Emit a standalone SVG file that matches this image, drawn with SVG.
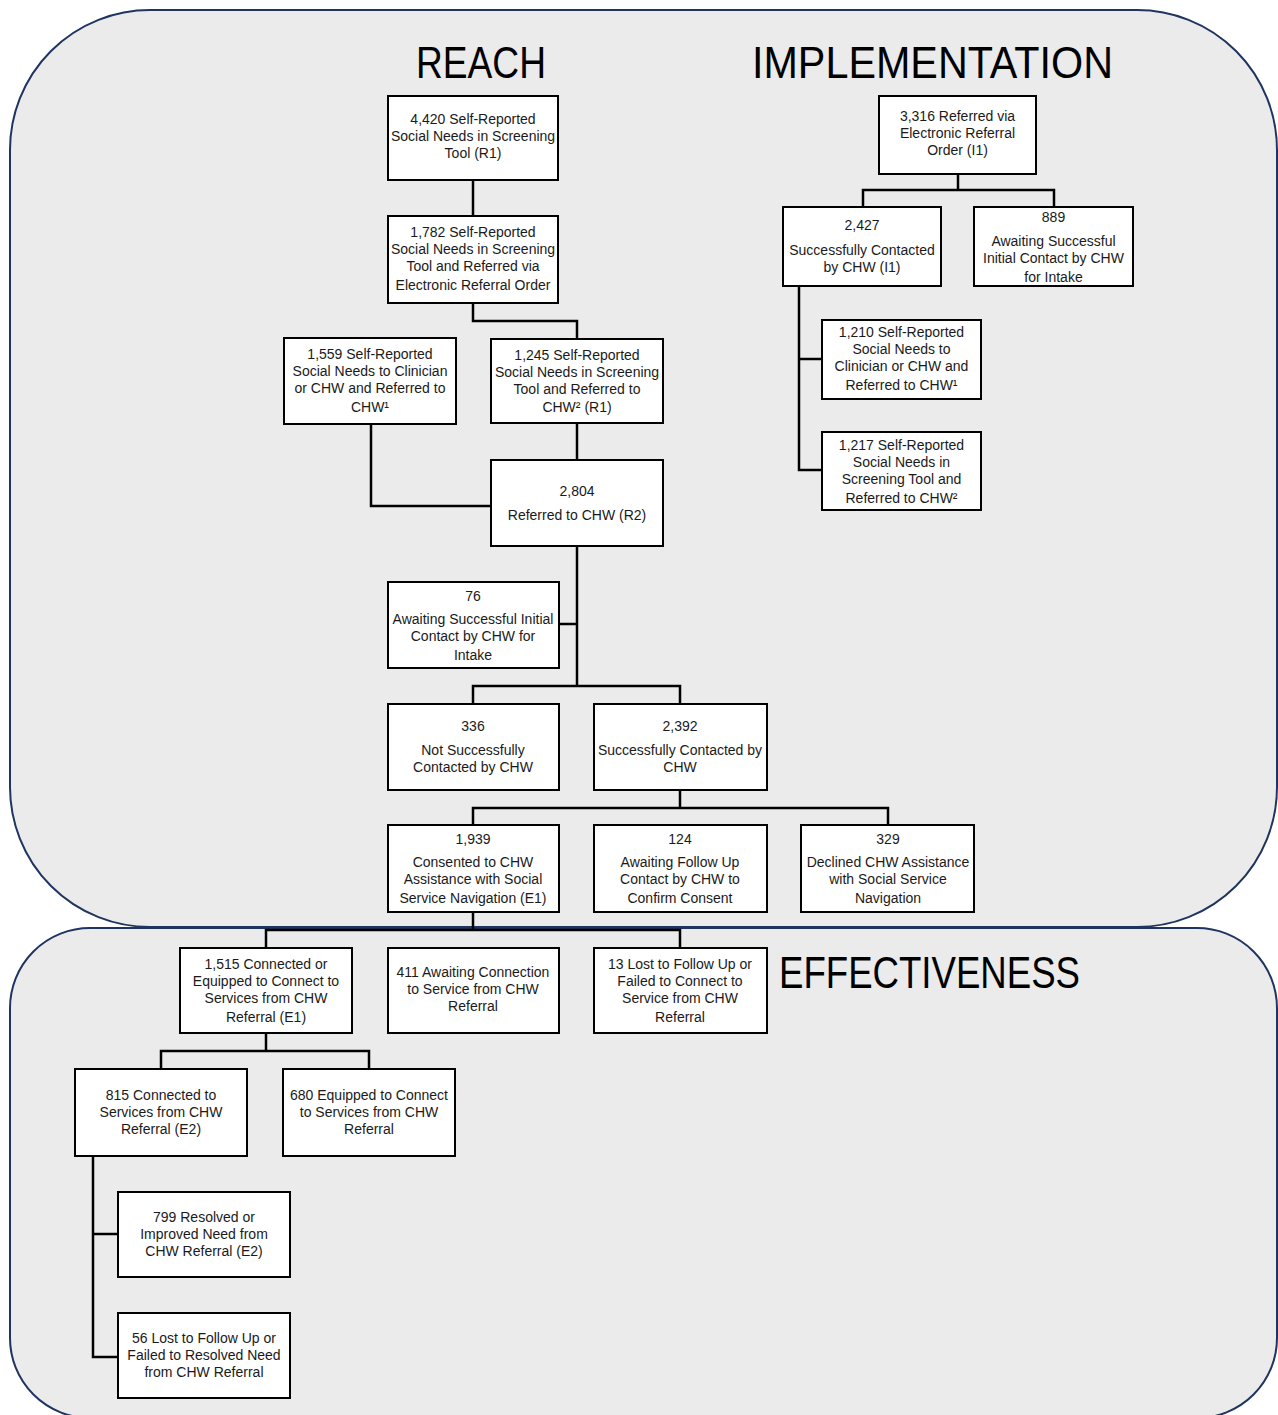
<svg xmlns="http://www.w3.org/2000/svg" width="1278" height="1415" viewBox="0 0 1278 1415">
<style>
.panel{fill:#ebebeb;stroke:#1f3560;stroke-width:2}
.box{fill:#ffffff;stroke:#000000;stroke-width:2}
.t{font-family:"Liberation Sans",Arial,sans-serif;font-size:14px;fill:#1a1a1a;text-anchor:middle}
.title{font-family:"Liberation Sans",Arial,sans-serif;font-size:44px;fill:#000000}
.conn path{fill:none;stroke:#000000;stroke-width:2.5}
</style>
<rect width="1278" height="1415" fill="#ffffff"/>
<g id="panel-reach-implementation"><rect class="panel" x="10" y="10" width="1267" height="917" rx="140" ry="140"/></g>
<g id="panel-effectiveness"><rect class="panel" x="10" y="928" width="1267" height="490" rx="80" ry="80"/></g>
<g id="titles">
<text class="title" x="416" y="78" textLength="130" lengthAdjust="spacingAndGlyphs">REACH</text>
<text class="title" x="752" y="78" textLength="361" lengthAdjust="spacingAndGlyphs">IMPLEMENTATION</text>
<text class="title" x="779" y="988" textLength="301" lengthAdjust="spacingAndGlyphs">EFFECTIVENESS</text>
</g>
<g id="connectors" class="conn">
<path d="M473,180 V216"/>
<path d="M473,303 V321 H577 V339"/>
<path d="M577,423 V460"/>
<path d="M371,424 V506 H491"/>
<path d="M577,546 V686"/>
<path d="M559,624 H577"/>
<path d="M473,704 V686 H680 V704"/>
<path d="M680,790 V808"/>
<path d="M473,825 V808 H888 V825"/>
<path d="M473,912 V930"/>
<path d="M266,948 V930 H680 V948"/>
<path d="M266,1033 V1051"/>
<path d="M161,1069 V1051 H369 V1069"/>
<path d="M93,1156 V1357 H118"/>
<path d="M93,1234 H118"/>
<path d="M958,174 V190"/>
<path d="M863,207 V190 H1054 V207"/>
<path d="M799,286 V470 H822"/>
<path d="M799,359 H822"/>
</g>
<g id="n4420"><rect class="box" x="388" y="96" width="170" height="84"/>
<text class="t" x="473" y="124">4,420 Self-Reported</text><text class="t" x="473" y="141">Social Needs in Screening</text><text class="t" x="473" y="158">Tool (R1)</text></g>
<g id="n1782"><rect class="box" x="388" y="216" width="170" height="87"/>
<text class="t" x="473" y="237">1,782 Self-Reported</text><text class="t" x="473" y="254">Social Needs in Screening</text><text class="t" x="473" y="271">Tool and Referred via</text><text class="t" x="473" y="290">Electronic Referral Order</text></g>
<g id="n1559"><rect class="box" x="284" y="338" width="172" height="86"/>
<text class="t" x="370" y="359">1,559 Self-Reported</text><text class="t" x="370" y="376">Social Needs to Clinician</text><text class="t" x="370" y="393">or CHW and Referred to</text><text class="t" x="370" y="412">CHW¹</text></g>
<g id="n1245"><rect class="box" x="491" y="339" width="172" height="84"/>
<text class="t" x="577" y="360">1,245 Self-Reported</text><text class="t" x="577" y="377">Social Needs in Screening</text><text class="t" x="577" y="394">Tool and Referred to</text><text class="t" x="577" y="412">CHW² (R1)</text></g>
<g id="n2804"><rect class="box" x="491" y="460" width="172" height="86"/>
<text class="t" x="577" y="496">2,804</text><text class="t" x="577" y="520">Referred to CHW (R2)</text></g>
<g id="n76"><rect class="box" x="388" y="582" width="171" height="86"/>
<text class="t" x="473" y="601">76</text><text class="t" x="473" y="624">Awaiting Successful Initial</text><text class="t" x="473" y="641">Contact by CHW for</text><text class="t" x="473" y="660">Intake</text></g>
<g id="n336"><rect class="box" x="388" y="704" width="171" height="86"/>
<text class="t" x="473" y="731">336</text><text class="t" x="473" y="755">Not Successfully</text><text class="t" x="473" y="772">Contacted by CHW</text></g>
<g id="n2392"><rect class="box" x="594" y="704" width="173" height="86"/>
<text class="t" x="680" y="731">2,392</text><text class="t" x="680" y="755">Successfully Contacted by</text><text class="t" x="680" y="772">CHW</text></g>
<g id="n1939"><rect class="box" x="388" y="825" width="171" height="87"/>
<text class="t" x="473" y="844">1,939</text><text class="t" x="473" y="867">Consented to CHW</text><text class="t" x="473" y="884">Assistance with Social</text><text class="t" x="473" y="903">Service Navigation (E1)</text></g>
<g id="n124"><rect class="box" x="594" y="825" width="173" height="87"/>
<text class="t" x="680" y="844">124</text><text class="t" x="680" y="867">Awaiting Follow Up</text><text class="t" x="680" y="884">Contact by CHW to</text><text class="t" x="680" y="903">Confirm Consent</text></g>
<g id="n329"><rect class="box" x="801" y="825" width="173" height="87"/>
<text class="t" x="888" y="844">329</text><text class="t" x="888" y="867">Declined CHW Assistance</text><text class="t" x="888" y="884">with Social Service</text><text class="t" x="888" y="903">Navigation</text></g>
<g id="n1515"><rect class="box" x="180" y="948" width="172" height="85"/>
<text class="t" x="266" y="969">1,515 Connected or</text><text class="t" x="266" y="986">Equipped to Connect to</text><text class="t" x="266" y="1003">Services from CHW</text><text class="t" x="266" y="1022">Referral (E1)</text></g>
<g id="n411"><rect class="box" x="388" y="948" width="171" height="85"/>
<text class="t" x="473" y="977">411 Awaiting Connection</text><text class="t" x="473" y="994">to Service from CHW</text><text class="t" x="473" y="1011">Referral</text></g>
<g id="n13"><rect class="box" x="594" y="948" width="173" height="85"/>
<text class="t" x="680" y="969">13 Lost to Follow Up or</text><text class="t" x="680" y="986">Failed to Connect to</text><text class="t" x="680" y="1003">Service from CHW</text><text class="t" x="680" y="1022">Referral</text></g>
<g id="n815"><rect class="box" x="75" y="1069" width="172" height="87"/>
<text class="t" x="161" y="1100">815 Connected to</text><text class="t" x="161" y="1117">Services from CHW</text><text class="t" x="161" y="1134">Referral (E2)</text></g>
<g id="n680"><rect class="box" x="283" y="1069" width="172" height="87"/>
<text class="t" x="369" y="1100">680 Equipped to Connect</text><text class="t" x="369" y="1117">to Services from CHW</text><text class="t" x="369" y="1134">Referral</text></g>
<g id="n799"><rect class="box" x="118" y="1192" width="172" height="85"/>
<text class="t" x="204" y="1222">799 Resolved or</text><text class="t" x="204" y="1239">Improved Need from</text><text class="t" x="204" y="1256">CHW Referral (E2)</text></g>
<g id="n56"><rect class="box" x="118" y="1313" width="172" height="85"/>
<text class="t" x="204" y="1343">56 Lost to Follow Up or</text><text class="t" x="204" y="1360">Failed to Resolved Need</text><text class="t" x="204" y="1377">from CHW Referral</text></g>
<g id="n3316"><rect class="box" x="879" y="96" width="157" height="78"/>
<text class="t" x="957.5" y="121">3,316 Referred via</text><text class="t" x="957.5" y="138">Electronic Referral</text><text class="t" x="957.5" y="155">Order (I1)</text></g>
<g id="n2427"><rect class="box" x="783" y="207" width="158" height="79"/>
<text class="t" x="862" y="230">2,427</text><text class="t" x="862" y="255">Successfully Contacted</text><text class="t" x="862" y="272">by CHW (I1)</text></g>
<g id="n889"><rect class="box" x="974" y="207" width="159" height="79"/>
<text class="t" x="1053.5" y="222">889</text><text class="t" x="1053.5" y="246">Awaiting Successful</text><text class="t" x="1053.5" y="263">Initial Contact by CHW</text><text class="t" x="1053.5" y="282">for Intake</text></g>
<g id="n1210"><rect class="box" x="822" y="320" width="159" height="79"/>
<text class="t" x="901.5" y="337">1,210 Self-Reported</text><text class="t" x="901.5" y="354">Social Needs to</text><text class="t" x="901.5" y="371">Clinician or CHW and</text><text class="t" x="901.5" y="390">Referred to CHW¹</text></g>
<g id="n1217"><rect class="box" x="822" y="432" width="159" height="78"/>
<text class="t" x="901.5" y="450">1,217 Self-Reported</text><text class="t" x="901.5" y="467">Social Needs in</text><text class="t" x="901.5" y="484">Screening Tool and</text><text class="t" x="901.5" y="503">Referred to CHW²</text></g>
</svg>
